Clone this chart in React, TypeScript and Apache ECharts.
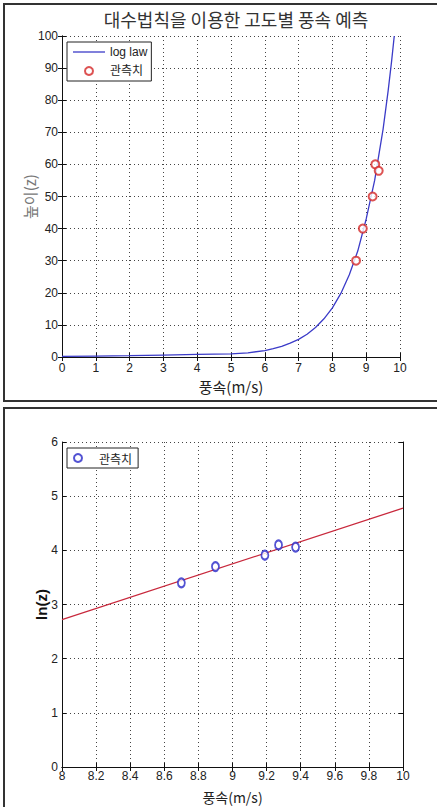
import React, { useEffect, useRef } from "react";
import * as echarts from "echarts";

// Top panel: log-law curve
const logLawSpeed = [0, 1, 2, 3, 4, 5, 5.5, 6, 6.25, 6.5, 6.75, 7, 7.25, 7.5, 7.75, 8, 8.25, 8.5, 8.75, 9, 9.25, 9.5, 9.65, 9.75, 9.83];
const logLawHeight = [0.2, 0.3, 0.4, 0.6, 0.8, 1.0, 1.3, 2.0, 2.6, 3.3, 4.3, 5.5, 7.1, 9.2, 11.9, 15.3, 19.8, 25.6, 33, 43, 55, 71, 83, 92, 100];

// Observations
const obsSpeed = [8.7, 8.9, 9.19, 9.27, 9.37];
const obsHeight = [30, 40, 50, 60, 58];
const obsLnZ = [3.4, 3.7, 3.91, 4.1, 4.06];

// Bottom panel: fitted line
const fitSpeed = [8, 10];
const fitLnZ = [2.72, 4.78];

const titleText = "대수법칙을 이용한 고도별 풍속 예측";
const xName = "풍속(m/s)";
const yNameTop = "높이(z)";
const yNameBottom = "ln(z)";

const NUM_FONT = "'Liberation Sans Narrow', 'Liberation Sans', Arial, sans-serif";
const KR_FONT = "'Noto Sans CJK KR', 'Liberation Sans', sans-serif";

export default function App() {
  const ref = useRef<HTMLDivElement>(null);
  useEffect(() => {
    if (!ref.current) return;
    const chart = echarts.init(ref.current, undefined, { renderer: "svg" });

    const tickLabel = { fontFamily: NUM_FONT, fontSize: 12, color: "#222" };
    const splitDotted = { show: true, lineStyle: { type: [1, 3] as any, color: "#444", width: 1 } };
    const axisLine = { show: true, lineStyle: { color: "#111", width: 1 } };
    const tickIn = { show: true, inside: true, length: 4, lineStyle: { color: "#111" } };

    const mainX = (gridIndex: number, min: number, max: number, interval: number, margin: number, gap: number, fs: number) => ({
      type: "value",
      gridIndex,
      min,
      max,
      interval,
      position: "bottom",
      axisLine,
      axisTick: tickIn,
      axisLabel: { ...tickLabel, margin },
      splitLine: splitDotted,
      name: xName,
      nameLocation: "middle",
      nameGap: gap,
      nameMoveOverlap: false,
      nameTextStyle: { fontFamily: KR_FONT, fontSize: fs, color: "#222" },
    });
    const secX = (gridIndex: number, min: number, max: number, interval: number) => ({
      type: "value",
      gridIndex,
      min,
      max,
      interval,
      position: "top",
      axisLine,
      axisTick: tickIn,
      axisLabel: { show: false },
      splitLine: { show: false },
    });
    const secY = (gridIndex: number, min: number, max: number, interval: number) => ({
      type: "value",
      gridIndex,
      min,
      max,
      interval,
      position: "right",
      axisLine,
      axisTick: tickIn,
      axisLabel: { show: false },
      splitLine: { show: false },
    });

    chart.setOption({
      animation: false,
      backgroundColor: "#fff",
      title: {
        text: titleText,
        left: 231,
        top: 5,
        textAlign: "center",
        textStyle: { fontFamily: KR_FONT, fontSize: 18, fontWeight: "normal", color: "#333" },
      },
      graphic: [
        { type: "rect", shape: { x: 4, y: 4, width: 440, height: 397 }, style: { fill: "none", stroke: "#333", lineWidth: 2 }, z: 0 },
        { type: "rect", shape: { x: 4, y: 408, width: 440, height: 410 }, style: { fill: "none", stroke: "#333", lineWidth: 2 }, z: 0 },
      ],
      grid: [
        { left: 62, top: 36, width: 338, height: 321 },
        { left: 62, top: 442, width: 341, height: 325 },
      ],
      legend: [
        {
          data: [{ name: "log law", icon: "path://M0,0H32V1.3H0Z" }, { name: "관측치" }],
          orient: "vertical",
          left: 67,
          top: 42,
          padding: [4, 4, 4, 6],
          itemGap: 7,
          itemWidth: 32,
          itemHeight: 8,
          borderColor: "#222",
          borderWidth: 1,
          backgroundColor: "#fff",
          selectedMode: false,
          textStyle: { fontFamily: NUM_FONT + ", 'Noto Sans CJK KR'", fontSize: 12, color: "#222" },
        },
        {
          data: ["관측치 ln"],
          orient: "vertical",
          left: 67,
          top: 448,
          padding: [4, 6, 4, 6],
          itemWidth: 32,
          itemHeight: 8,
          borderColor: "#222",
          borderWidth: 1,
          backgroundColor: "#fff",
          selectedMode: false,
          formatter: () => "관측치",
          textStyle: { fontFamily: KR_FONT, fontSize: 12, color: "#222" },
        },
      ],
      xAxis: [
        mainX(0, 0, 10, 1, 5, 22, 15),
        secX(0, 0, 10, 1),
        mainX(1, 8, 10, 0.2, 3, 23, 14),
        secX(1, 8, 10, 0.2),
      ],
      yAxis: [
        {
          type: "value",
          gridIndex: 0,
          min: 0,
          max: 100,
          interval: 10,
          position: "left",
          axisLine,
          axisTick: tickIn,
          axisLabel: { ...tickLabel, margin: 4 },
          splitLine: splitDotted,
          name: yNameTop,
          nameLocation: "middle",
          nameGap: 25,
          nameRotate: 90,
          nameMoveOverlap: false,
          nameTextStyle: { fontFamily: KR_FONT, fontSize: 15, color: "#777" },
        },
        secY(0, 0, 100, 10),
        {
          type: "value",
          gridIndex: 1,
          min: 0,
          max: 6,
          interval: 1,
          position: "left",
          axisLine,
          axisTick: tickIn,
          axisLabel: { ...tickLabel, margin: 4 },
          splitLine: splitDotted,
          name: yNameBottom,
          nameLocation: "middle",
          nameGap: 13,
          nameRotate: 90,
          nameMoveOverlap: false,
          nameTextStyle: { fontFamily: "'Liberation Sans', Arial, sans-serif", fontSize: 15, fontWeight: "bold", color: "#111" },
        },
        secY(1, 0, 6, 1),
      ],
      series: [
        {
          name: "log law",
          type: "line",
          xAxisIndex: 0,
          yAxisIndex: 0,
          data: logLawSpeed.map((u, i) => [u, logLawHeight[i]]),
          symbol: "none",
          lineStyle: { color: "#3b3bc8", width: 1.3 },
          itemStyle: { color: "#3b3bc8" },
          z: 3,
        },
        {
          name: "관측치",
          type: "scatter",
          xAxisIndex: 0,
          yAxisIndex: 0,
          data: obsSpeed.map((u, i) => [u, obsHeight[i]]),
          symbol: "emptyCircle",
          symbolSize: 8,
          itemStyle: { color: "#d42828", borderWidth: 1, borderColor: "#d42828" },
          z: 4,
        },
        {
          name: "fit",
          type: "line",
          xAxisIndex: 2,
          yAxisIndex: 2,
          data: fitSpeed.map((u, i) => [u, fitLnZ[i]]),
          symbol: "none",
          lineStyle: { color: "#c8283c", width: 1.2 },
          z: 3,
        },
        {
          name: "관측치 ln",
          type: "scatter",
          xAxisIndex: 2,
          yAxisIndex: 2,
          data: obsSpeed.map((u, i) => [u, obsLnZ[i]]),
          symbol: "emptyCircle",
          symbolSize: [7, 9],
          itemStyle: { color: "#2828c8", borderWidth: 1, borderColor: "#2828c8" },
          z: 4,
        },
      ],
    });
    return () => chart.dispose();
  }, []);
  return <div ref={ref} style={{ position: "absolute", left: 0, top: 0, width: 437, height: 807 }} />;
}
